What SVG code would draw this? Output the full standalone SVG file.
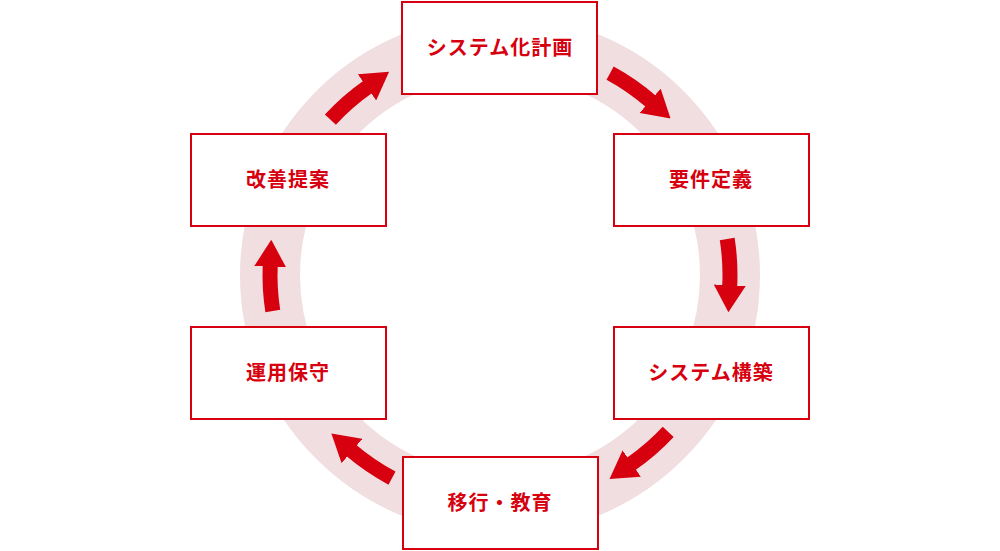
<svg xmlns="http://www.w3.org/2000/svg" width="1000" height="551" viewBox="0 0 1000 551">
<style>
.ring{fill:none;stroke:#f1dee0;stroke-width:60}
.box{fill:#fff;stroke:#d7000f;stroke-width:2}
.lbl{font-family:"Noto Sans CJK JP","Noto Sans",sans-serif;font-weight:700;font-size:20px;letter-spacing:1px;fill:#d7000f;text-anchor:middle}
.arr{fill:none;stroke:#d7000f;stroke-width:15;stroke-linecap:butt}
</style>
<defs>
<marker id="ah" markerUnits="userSpaceOnUse" viewBox="0 0 27 32" markerWidth="27" markerHeight="32" refX="1" refY="16" orient="auto">
<path d="M0,0 L27,16 L0,32 Z" fill="#d7000f"/>
</marker>
</defs>
<rect width="1000" height="551" fill="#fff"/>
<circle class="ring" cx="500" cy="275" r="230"/>
<g id="connectors">
<path class="arr" marker-end="url(#ah)" d="M610.1,73.1 A230,230 0 0 1 650.9,101.4"/>
<path class="arr" marker-end="url(#ah)" d="M727.2,239 A230,230 0 0 1 729.7,286.2"/>
<path class="arr" marker-end="url(#ah)" d="M668.2,431.9 A230,230 0 0 1 630.9,464.1"/>
<path class="arr" marker-end="url(#ah)" d="M392,478.1 A230,230 0 0 1 351.2,450.4"/>
<path class="arr" marker-end="url(#ah)" d="M272.8,311 A230,230 0 0 1 270.2,265.8"/>
<path class="arr" marker-end="url(#ah)" d="M330.4,119.6 A230,230 0 0 1 367.8,86.8"/>
</g>
<g id="n1"><rect class="box" x="402" y="2" width="195" height="92"/><text class="lbl" x="500" y="55">システム化計画</text></g>
<g id="n2"><rect class="box" x="614" y="134" width="195" height="92"/><text class="lbl" x="711" y="187">要件定義</text></g>
<g id="n3"><rect class="box" x="614" y="327" width="195" height="92"/><text class="lbl" x="711" y="380">システム構築</text></g>
<g id="n4"><rect class="box" x="403" y="457" width="195" height="92"/><text class="lbl" x="500" y="510">移行・教育</text></g>
<g id="n5"><rect class="box" x="191" y="327" width="195" height="92"/><text class="lbl" x="288" y="380">運用保守</text></g>
<g id="n6"><rect class="box" x="191" y="134" width="195" height="92"/><text class="lbl" x="288" y="187">改善提案</text></g>
</svg>
